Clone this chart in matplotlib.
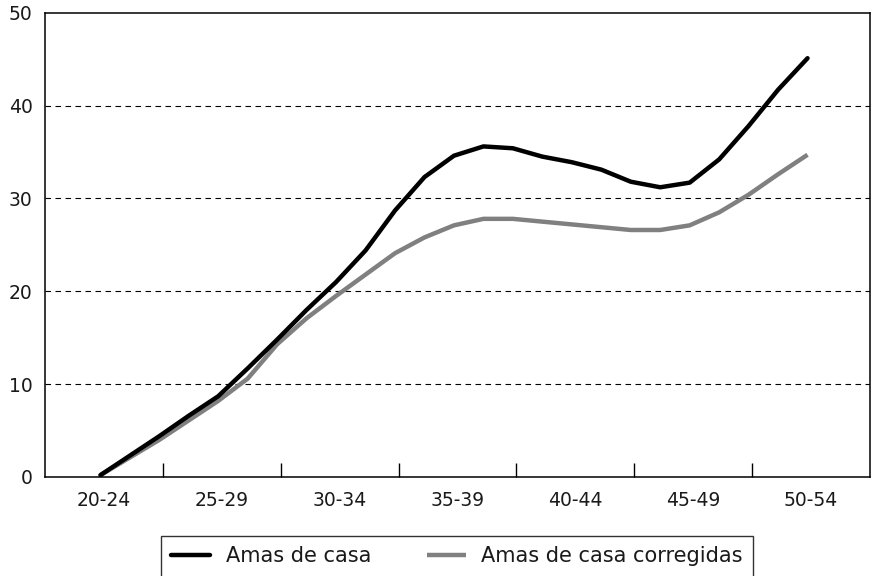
import matplotlib
matplotlib.use("Agg")
import matplotlib.pyplot as plt
import numpy as np

categories = ["20-24", "25-29", "30-34", "35-39", "40-44", "45-49", "50-54"]
# values sampled at quarter steps between group centres
amas_de_casa = [0.2, 2.3, 4.4, 6.6, 8.7, 11.7, 14.8, 18.0, 21.0, 24.4, 28.7, 32.3,
                34.6, 35.6, 35.4, 34.5, 33.9, 33.1, 31.8, 31.2, 31.7, 34.2, 37.8, 41.7, 45.1]
amas_corregidas = [0.2, 2.1, 4.0, 6.1, 8.2, 10.6, 14.3, 17.1, 19.5, 21.8, 24.1, 25.8,
                   27.1, 27.8, 27.8, 27.5, 27.2, 26.9, 26.6, 26.6, 27.1, 28.5, 30.4, 32.6, 34.7]
yticks = [0, 10, 20, 30, 40, 50]

plt.rcParams['font.family'] = ['DejaVu Sans']
FS = 13.5
LFS = 15

fig = plt.figure(figsize=(8.72, 5.76), dpi=100)
ax = fig.add_axes([45/872, 1-477/576, 825/872, (477-12.7)/576])

t = np.arange(len(amas_de_casa)) / 4.0 - 0.03
ax.plot(t, amas_de_casa, color="black", lw=3.2, solid_capstyle="round", solid_joinstyle="round",
        label="Amas de casa", zorder=3)
ax.plot(t, amas_corregidas, color="#808080", lw=3.2, solid_capstyle="butt", solid_joinstyle="round",
        label="Amas de casa corregidas", zorder=2)

ax.set_xlim(-0.5, len(categories) - 0.5)
ax.set_ylim(0, 50)
ax.set_yticks(yticks)
ax.set_yticklabels([str(v) for v in yticks], fontsize=FS, color="#1a1a1a")
ax.tick_params(axis="y", length=0, pad=9)

ax.set_xticks(range(len(categories)))
ax.set_xticklabels(categories, fontsize=FS, color="#1a1a1a")
ax.set_xticks(np.arange(0.5, len(categories) - 1, 1.0), minor=True)
ax.tick_params(axis="x", which="major", length=0, pad=10)
ax.tick_params(axis="x", which="minor", direction="in", length=10, width=1, color="black")

for v in yticks[1:-1]:
    ax.axhline(v, color="black", lw=0.8, ls=(0, (5, 4)), zorder=1)

for s in ax.spines.values():
    s.set_linewidth(1.1)
    s.set_color("black")

leg = fig.legend(loc="upper left", bbox_to_anchor=(161/872, 1-536/576), ncol=2,
                 frameon=True, fancybox=False, edgecolor="black", fontsize=LFS,
                 handlelength=1.85, handletextpad=0.75, columnspacing=2.7,
                 borderpad=0.5, borderaxespad=0)
leg.get_frame().set_linewidth(1.0)
for txt in leg.get_texts():
    txt.set_color("#1a1a1a")

fig.savefig("out.png", dpi=100)
